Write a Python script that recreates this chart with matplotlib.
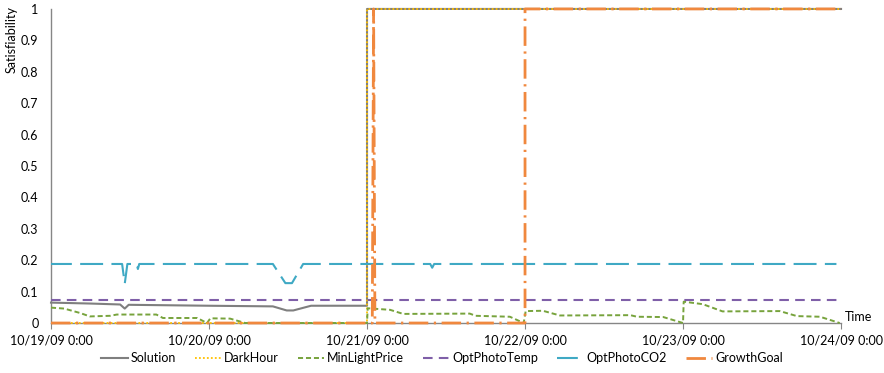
import matplotlib
matplotlib.use('Agg')
import matplotlib.pyplot as plt
from matplotlib.ticker import FuncFormatter

plt.rcParams['font.family'] = ['Lato', 'DejaVu Sans']

# time axis: hours after 10/19/09 0:00
tick_hours = [0, 24, 48, 72, 96, 120]
tick_labels = ['10/19/09 0:00', '10/20/09 0:00', '10/21/09 0:00',
               '10/22/09 0:00', '10/23/09 0:00', '10/24/09 0:00']

solution_t = [0, 6, 10.5, 11.2, 11.8, 24, 33.7, 35.8, 36.8, 38.6, 39.5, 48, 48, 120]
solution_v = [0.065, 0.062, 0.059, 0.046, 0.058, 0.055, 0.053, 0.040, 0.040,
              0.050, 0.055, 0.055, 1, 1]

darkhour_t = [0, 48, 48, 120]
darkhour_v = [0, 0, 1, 1]

minlight_t = [0, 2, 4.4, 5.9, 9, 10, 16, 17, 22.2, 23.7, 24.2, 27.2, 29.5, 48,
              48.1, 51.5, 53.5, 63.6, 64.5, 69.7, 71.8,
              72.1, 74.7, 77.3, 88, 89, 93, 96,
              96.1, 99, 102, 110.7, 113.3, 116.8, 119.8]
minlight_v = [0.049, 0.046, 0.032, 0.021, 0.023, 0.027, 0.027, 0.016, 0.016, 0.0, 0.015, 0.014, 0.0, 0.0,
              0.047, 0.042, 0.029, 0.030, 0.023, 0.020, 0.0,
              0.038, 0.039, 0.024, 0.025, 0.020, 0.019, 0.0,
              0.068, 0.060, 0.037, 0.038, 0.022, 0.020, 0.0]

phototemp_t = [0, 120]
phototemp_v = [0.074, 0.074]

co2_t = [0, 10.8, 11.2, 11.6, 13.0, 13.2, 13.4, 33.7, 35.6, 36.6, 38.3, 57.6, 57.9, 58.2, 119.3]
co2_v = [0.188, 0.188, 0.125, 0.188, 0.188, 0.172, 0.188, 0.188, 0.127, 0.127, 0.188,
         0.188, 0.176, 0.188, 0.188]

growth_t = [0, 48.8, 49.0, 49.2, 72, 72, 120]
growth_v = [0, 0, 1, 0, 0, 1, 1]

fig = plt.figure(figsize=(8.84, 3.73), dpi=100)
ax = fig.add_axes([0.0577, 0.134, 0.8937, 0.842])

ax.plot(solution_t, solution_v, color='#7f7f7f', lw=1.5, label='Solution', clip_on=False)
ax.plot(darkhour_t, darkhour_v, color='#ffc000', lw=1.3, dashes=(1, 1.2), label='DarkHour', clip_on=False)
ax.plot(minlight_t, minlight_v, color='#77a33c', lw=1.4, dashes=(2.6, 1.5), label='MinLightPrice', clip_on=False)
ax.plot(phototemp_t, phototemp_v, color='#7f5fa8', lw=1.5, dashes=(4.6, 3), label='OptPhotoTemp')
ax.plot(co2_t, co2_v, color='#3fa9c4', lw=1.5, dashes=(10, 4, 1, 0.01), label='OptPhotoCO2')
ax.plot(growth_t, growth_v, color='#f0883e', lw=2.0, dashes=(7, 2, 0.8, 2), label='GrowthGoal',
        clip_on=False, zorder=3)

ax.set_xlim(0, 120)
ax.set_ylim(0, 1)
ax.set_yticks([i / 10 for i in range(11)])
ax.yaxis.set_major_formatter(FuncFormatter(lambda v, p: '%g' % round(v, 1)))
ax.set_xticks(tick_hours)
ax.set_xticklabels(tick_labels)
ax.tick_params(axis='y', length=0, labelsize=9, pad=9)
ax.tick_params(axis='x', length=4, color='#868686', labelsize=9, pad=4)

for s in ['top', 'right']:
    ax.spines[s].set_visible(False)
for s in ['left', 'bottom']:
    ax.spines[s].set_color('#868686')
    ax.spines[s].set_linewidth(1.0)
    ax.spines[s].set_zorder(0.5)

fig.text(0.006, 0.985, 'Satisfiability', rotation=90, va='top', ha='left', fontsize=9)
ax.text(1.005, 0.0, 'Time', transform=ax.transAxes, va='bottom', ha='left', fontsize=9)

fig.legend(loc='center', bbox_to_anchor=(0.5, 0.04), ncol=6, frameon=False,
           fontsize=9, handlelength=2.1, handletextpad=0.25, columnspacing=1.5)

fig.savefig('out.png', dpi=100, facecolor='white')
